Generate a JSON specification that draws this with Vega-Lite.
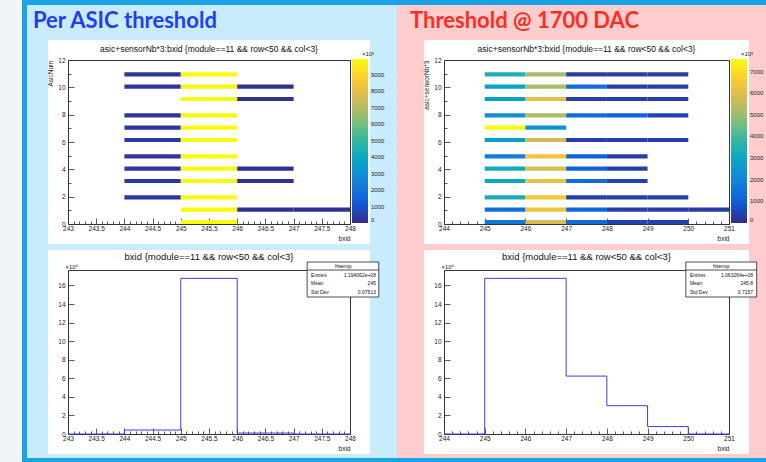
{
  "$schema": "https://vega.github.io/schema/vega-lite/v6.json",
  "background": "#f1f4f7",
  "autosize": {"type": "none"},
  "padding": {"left": 68, "top": 46, "right": 698, "bottom": 416},
  "bounds": "flush",
  "spacing": 0,
  "resolve": {"scale": {"color": "independent"}},
  "datasets": {
    "panels": [
      {"panel": "Per ASIC threshold"},
      {"panel": "Threshold @ 1700 DAC"}
    ],
    "heat_per_asic": [
      {"row": 11, "y_lo": 10.8, "y_hi": 11.1, "bx_lo": 244, "bx_hi": 245, "count_k": 300},
      {"row": 11, "y_lo": 10.8, "y_hi": 11.1, "bx_lo": 245, "bx_hi": 246, "count_k": 9940},
      {"row": 10, "y_lo": 9.9, "y_hi": 10.2, "bx_lo": 244, "bx_hi": 245, "count_k": 300},
      {"row": 10, "y_lo": 9.9, "y_hi": 10.2, "bx_lo": 245, "bx_hi": 246, "count_k": 9900},
      {"row": 10, "y_lo": 9.9, "y_hi": 10.2, "bx_lo": 246, "bx_hi": 247, "count_k": 150},
      {"row": 9, "y_lo": 9.0, "y_hi": 9.3, "bx_lo": 245, "bx_hi": 246, "count_k": 9920},
      {"row": 9, "y_lo": 9.0, "y_hi": 9.3, "bx_lo": 246, "bx_hi": 247, "count_k": 150},
      {"row": 8, "y_lo": 7.8, "y_hi": 8.1, "bx_lo": 244, "bx_hi": 245, "count_k": 320},
      {"row": 8, "y_lo": 7.8, "y_hi": 8.1, "bx_lo": 245, "bx_hi": 246, "count_k": 9880},
      {"row": 7, "y_lo": 6.9, "y_hi": 7.2, "bx_lo": 244, "bx_hi": 245, "count_k": 300},
      {"row": 7, "y_lo": 6.9, "y_hi": 7.2, "bx_lo": 245, "bx_hi": 246, "count_k": 9900},
      {"row": 6, "y_lo": 6.0, "y_hi": 6.3, "bx_lo": 244, "bx_hi": 245, "count_k": 330},
      {"row": 6, "y_lo": 6.0, "y_hi": 6.3, "bx_lo": 245, "bx_hi": 246, "count_k": 9870},
      {"row": 5, "y_lo": 4.8, "y_hi": 5.1, "bx_lo": 244, "bx_hi": 245, "count_k": 300},
      {"row": 5, "y_lo": 4.8, "y_hi": 5.1, "bx_lo": 245, "bx_hi": 246, "count_k": 9920},
      {"row": 4, "y_lo": 3.9, "y_hi": 4.2, "bx_lo": 244, "bx_hi": 245, "count_k": 300},
      {"row": 4, "y_lo": 3.9, "y_hi": 4.2, "bx_lo": 245, "bx_hi": 246, "count_k": 9890},
      {"row": 4, "y_lo": 3.9, "y_hi": 4.2, "bx_lo": 246, "bx_hi": 247, "count_k": 150},
      {"row": 3, "y_lo": 3.0, "y_hi": 3.3, "bx_lo": 244, "bx_hi": 245, "count_k": 320},
      {"row": 3, "y_lo": 3.0, "y_hi": 3.3, "bx_lo": 245, "bx_hi": 246, "count_k": 9900},
      {"row": 3, "y_lo": 3.0, "y_hi": 3.3, "bx_lo": 246, "bx_hi": 247, "count_k": 160},
      {"row": 2, "y_lo": 1.8, "y_hi": 2.1, "bx_lo": 244, "bx_hi": 245, "count_k": 300},
      {"row": 2, "y_lo": 1.8, "y_hi": 2.1, "bx_lo": 245, "bx_hi": 246, "count_k": 9910},
      {"row": 1, "y_lo": 0.9, "y_hi": 1.2, "bx_lo": 245, "bx_hi": 246, "count_k": 9930},
      {"row": 1, "y_lo": 0.9, "y_hi": 1.2, "bx_lo": 246, "bx_hi": 247, "count_k": 160},
      {"row": 1, "y_lo": 0.9, "y_hi": 1.2, "bx_lo": 247, "bx_hi": 248, "count_k": 140},
      {"row": 0, "y_lo": 0.0, "y_hi": 0.3, "bx_lo": 245, "bx_hi": 246, "count_k": 9940}
    ],
    "heat_1700": [
      {"row": 11, "y_lo": 10.8, "y_hi": 11.1, "bx_lo": 245, "bx_hi": 246, "count_k": 3400},
      {"row": 11, "y_lo": 10.8, "y_hi": 11.1, "bx_lo": 246, "bx_hi": 247, "count_k": 5150},
      {"row": 11, "y_lo": 10.8, "y_hi": 11.1, "bx_lo": 247, "bx_hi": 248, "count_k": 380},
      {"row": 11, "y_lo": 10.8, "y_hi": 11.1, "bx_lo": 248, "bx_hi": 249, "count_k": 380},
      {"row": 11, "y_lo": 10.8, "y_hi": 11.1, "bx_lo": 249, "bx_hi": 250, "count_k": 380},
      {"row": 10, "y_lo": 9.9, "y_hi": 10.2, "bx_lo": 245, "bx_hi": 246, "count_k": 2800},
      {"row": 10, "y_lo": 9.9, "y_hi": 10.2, "bx_lo": 246, "bx_hi": 247, "count_k": 5150},
      {"row": 10, "y_lo": 9.9, "y_hi": 10.2, "bx_lo": 247, "bx_hi": 248, "count_k": 1400},
      {"row": 10, "y_lo": 9.9, "y_hi": 10.2, "bx_lo": 248, "bx_hi": 249, "count_k": 380},
      {"row": 10, "y_lo": 9.9, "y_hi": 10.2, "bx_lo": 249, "bx_hi": 250, "count_k": 380},
      {"row": 9, "y_lo": 9.0, "y_hi": 9.3, "bx_lo": 245, "bx_hi": 246, "count_k": 2700},
      {"row": 9, "y_lo": 9.0, "y_hi": 9.3, "bx_lo": 246, "bx_hi": 247, "count_k": 6060},
      {"row": 9, "y_lo": 9.0, "y_hi": 9.3, "bx_lo": 247, "bx_hi": 248, "count_k": 380},
      {"row": 9, "y_lo": 9.0, "y_hi": 9.3, "bx_lo": 248, "bx_hi": 249, "count_k": 380},
      {"row": 9, "y_lo": 9.0, "y_hi": 9.3, "bx_lo": 249, "bx_hi": 250, "count_k": 380},
      {"row": 8, "y_lo": 7.8, "y_hi": 8.1, "bx_lo": 245, "bx_hi": 246, "count_k": 2300},
      {"row": 8, "y_lo": 7.8, "y_hi": 8.1, "bx_lo": 246, "bx_hi": 247, "count_k": 5200},
      {"row": 8, "y_lo": 7.8, "y_hi": 8.1, "bx_lo": 247, "bx_hi": 248, "count_k": 1300},
      {"row": 8, "y_lo": 7.8, "y_hi": 8.1, "bx_lo": 248, "bx_hi": 249, "count_k": 1100},
      {"row": 8, "y_lo": 7.8, "y_hi": 8.1, "bx_lo": 249, "bx_hi": 250, "count_k": 500},
      {"row": 7, "y_lo": 6.9, "y_hi": 7.2, "bx_lo": 245, "bx_hi": 246, "count_k": 7580},
      {"row": 7, "y_lo": 6.9, "y_hi": 7.2, "bx_lo": 246, "bx_hi": 247, "count_k": 2400},
      {"row": 6, "y_lo": 6.0, "y_hi": 6.3, "bx_lo": 245, "bx_hi": 246, "count_k": 2750},
      {"row": 6, "y_lo": 6.0, "y_hi": 6.3, "bx_lo": 246, "bx_hi": 247, "count_k": 5700},
      {"row": 6, "y_lo": 6.0, "y_hi": 6.3, "bx_lo": 247, "bx_hi": 248, "count_k": 380},
      {"row": 6, "y_lo": 6.0, "y_hi": 6.3, "bx_lo": 248, "bx_hi": 249, "count_k": 380},
      {"row": 6, "y_lo": 6.0, "y_hi": 6.3, "bx_lo": 249, "bx_hi": 250, "count_k": 380},
      {"row": 5, "y_lo": 4.8, "y_hi": 5.1, "bx_lo": 245, "bx_hi": 246, "count_k": 1800},
      {"row": 5, "y_lo": 4.8, "y_hi": 5.1, "bx_lo": 246, "bx_hi": 247, "count_k": 6370},
      {"row": 5, "y_lo": 4.8, "y_hi": 5.1, "bx_lo": 247, "bx_hi": 248, "count_k": 1100},
      {"row": 5, "y_lo": 4.8, "y_hi": 5.1, "bx_lo": 248, "bx_hi": 249, "count_k": 380},
      {"row": 4, "y_lo": 3.9, "y_hi": 4.2, "bx_lo": 245, "bx_hi": 246, "count_k": 3100},
      {"row": 4, "y_lo": 3.9, "y_hi": 4.2, "bx_lo": 246, "bx_hi": 247, "count_k": 5800},
      {"row": 4, "y_lo": 3.9, "y_hi": 4.2, "bx_lo": 247, "bx_hi": 248, "count_k": 1100},
      {"row": 4, "y_lo": 3.9, "y_hi": 4.2, "bx_lo": 248, "bx_hi": 249, "count_k": 380},
      {"row": 3, "y_lo": 3.0, "y_hi": 3.3, "bx_lo": 245, "bx_hi": 246, "count_k": 3000},
      {"row": 3, "y_lo": 3.0, "y_hi": 3.3, "bx_lo": 246, "bx_hi": 247, "count_k": 6200},
      {"row": 3, "y_lo": 3.0, "y_hi": 3.3, "bx_lo": 247, "bx_hi": 248, "count_k": 1300},
      {"row": 3, "y_lo": 3.0, "y_hi": 3.3, "bx_lo": 248, "bx_hi": 249, "count_k": 450},
      {"row": 2, "y_lo": 1.8, "y_hi": 2.1, "bx_lo": 245, "bx_hi": 246, "count_k": 3300},
      {"row": 2, "y_lo": 1.8, "y_hi": 2.1, "bx_lo": 246, "bx_hi": 247, "count_k": 6500},
      {"row": 2, "y_lo": 1.8, "y_hi": 2.1, "bx_lo": 247, "bx_hi": 248, "count_k": 380},
      {"row": 2, "y_lo": 1.8, "y_hi": 2.1, "bx_lo": 248, "bx_hi": 249, "count_k": 380},
      {"row": 2, "y_lo": 1.8, "y_hi": 2.1, "bx_lo": 249, "bx_hi": 250, "count_k": 380},
      {"row": 1, "y_lo": 0.9, "y_hi": 1.2, "bx_lo": 245, "bx_hi": 246, "count_k": 1400},
      {"row": 1, "y_lo": 0.9, "y_hi": 1.2, "bx_lo": 246, "bx_hi": 247, "count_k": 6300},
      {"row": 1, "y_lo": 0.9, "y_hi": 1.2, "bx_lo": 247, "bx_hi": 248, "count_k": 1200},
      {"row": 1, "y_lo": 0.9, "y_hi": 1.2, "bx_lo": 248, "bx_hi": 249, "count_k": 350},
      {"row": 1, "y_lo": 0.9, "y_hi": 1.2, "bx_lo": 249, "bx_hi": 250, "count_k": 350},
      {"row": 1, "y_lo": 0.9, "y_hi": 1.2, "bx_lo": 250, "bx_hi": 251, "count_k": 350},
      {"row": 0, "y_lo": 0.0, "y_hi": 0.3, "bx_lo": 245, "bx_hi": 246, "count_k": 1700},
      {"row": 0, "y_lo": 0.0, "y_hi": 0.3, "bx_lo": 246, "bx_hi": 247, "count_k": 5800},
      {"row": 0, "y_lo": 0.0, "y_hi": 0.3, "bx_lo": 247, "bx_hi": 248, "count_k": 1300},
      {"row": 0, "y_lo": 0.0, "y_hi": 0.3, "bx_lo": 248, "bx_hi": 249, "count_k": 450},
      {"row": 0, "y_lo": 0.0, "y_hi": 0.3, "bx_lo": 249, "bx_hi": 250, "count_k": 400}
    ],
    "hist_per_asic": [
      {"bxid": 243, "entries_m": 0},
      {"bxid": 244, "entries_m": 0.43},
      {"bxid": 245, "entries_m": 16.77},
      {"bxid": 246, "entries_m": 0.1},
      {"bxid": 247, "entries_m": 0},
      {"bxid": 248, "entries_m": 0}
    ],
    "hist_1700": [
      {"bxid": 244, "entries_m": 0},
      {"bxid": 245, "entries_m": 16.77},
      {"bxid": 246, "entries_m": 16.77},
      {"bxid": 247, "entries_m": 6.24},
      {"bxid": 248, "entries_m": 3.05},
      {"bxid": 249, "entries_m": 0.8},
      {"bxid": 250, "entries_m": 0},
      {"bxid": 251, "entries_m": 0}
    ],
    "stats_per_asic": [
      {"name": "htemp", "stat": "Entries", "value": "1.194062e+08"},
      {"name": "htemp", "stat": "Mean", "value": "245"},
      {"name": "htemp", "stat": "Std Dev", "value": "0.07513"}
    ],
    "stats_1700": [
      {"name": "htemp", "stat": "Entries", "value": "1.063264e+08"},
      {"name": "htemp", "stat": "Mean", "value": "245.8"},
      {"name": "htemp", "stat": "Std Dev", "value": "0.7157"}
    ]
  },
  "vconcat": [
    {
      "bounds": "flush",
      "hconcat": [
        {
          "width": 660,
          "height": 372,
          "view": {"fill": "#1aa3e8", "stroke": "#1aa3e8", "strokeWidth": 92},
          "data": {"name": "panels"},
          "mark": {"type": "rect", "opacity": 0},
          "encoding": {}
        }
      ]
    },
    {
      "bounds": "flush",
      "spacing": 14,
      "vconcat": [
        {
          "bounds": "flush",
          "spacing": 82,
          "hconcat": [
            {
              "width": 288,
              "height": 371,
              "view": {"fill": "#c9ecfd", "stroke": "#c9ecfd", "strokeWidth": 82},
              "data": {"name": "panels"},
              "transform": [{"filter": "datum.panel == 'Per ASIC threshold'"}],
              "mark": {"type": "rect", "opacity": 0},
              "encoding": {}
            },
            {
              "width": 300,
              "height": 371,
              "view": {"fill": "#ffcdcd", "stroke": "#ffcdcd", "strokeWidth": 82},
              "data": {"name": "panels"},
              "transform": [{"filter": "datum.panel == 'Threshold @ 1700 DAC'"}],
              "mark": {"type": "rect", "opacity": 0},
              "encoding": {}
            }
          ]
        },
        {
          "bounds": "flush",
          "spacing": 376,
          "resolve": {"scale": {"color": "independent"}},
          "hconcat": [
            {
              "title": {"text": "Per ASIC threshold", "color": "#1f3ff2", "fontSize": 22, "font": "Lato", "fontWeight": "bold", "anchor": "start", "frame": "group", "dx": -35, "offset": -8},
              "bounds": "flush",
              "spacing": 46,
              "vconcat": [
                {
                  "width": 282,
                  "height": 164,
                  "view": {"fill": "white", "stroke": "white", "strokeWidth": 40},
                  "title": {"text": "asic+sensorNb*3:bxid {module==11 && row<50 && col<3}", "fontSize": 8.5, "offset": 4, "frame": "group"},
                  "data": {"name": "heat_per_asic"},
                  "mark": {"type": "rect"},
                  "encoding": {
                    "x": {
                      "field": "bx_lo", "type": "quantitative",
                      "scale": {"domain": [243, 248], "nice": false, "zero": false},
                      "axis": {
                        "title": "bxid", "titleAnchor": "end", "titlePadding": 1,
                        "values": [243, 243.1, 243.2, 243.3, 243.4, 243.5, 243.6, 243.7, 243.8, 243.9, 244, 244.1, 244.2, 244.3, 244.4, 244.5, 244.6, 244.7, 244.8, 244.9, 245, 245.1, 245.2, 245.3, 245.4, 245.5, 245.6, 245.7, 245.8, 245.9, 246, 246.1, 246.2, 246.3, 246.4, 246.5, 246.6, 246.7, 246.8, 246.9, 247, 247.1, 247.2, 247.3, 247.4, 247.5, 247.6, 247.7, 247.8, 247.9, 248],
                        "tickCount": 100,
                        "format": ".1~f",
                        "labelExpr": "abs(datum.value * 2 - round(datum.value * 2)) < 0.01 ? datum.label : ''",
                        "labelOverlap": false,
                        "labelPadding": 7,
                        "tickSize": {"condition": {"test": "abs(datum.value * 2 - round(datum.value * 2)) < 0.01", "value": -6}, "value": -3},
                        "grid": true,
                        "gridOpacity": {"condition": {"test": "datum.value > 247.99", "value": 1}, "value": 0}
                      }
                    },
                    "x2": {"field": "bx_hi"},
                    "y": {
                      "field": "y_lo", "type": "quantitative",
                      "scale": {"domain": [0, 12], "nice": false},
                      "axis": {
                        "title": "AsicNum", "titleAnchor": "end", "titlePadding": 4,
                        "values": [0, 0.5, 1, 1.5, 2, 2.5, 3, 3.5, 4, 4.5, 5, 5.5, 6, 6.5, 7, 7.5, 8, 8.5, 9, 9.5, 10, 10.5, 11, 11.5, 12],
                        "tickCount": 100,
                        "format": "d",
                        "labelExpr": "datum.value % 2 == 0 ? datum.label : ''",
                        "labelOverlap": false,
                        "labelPadding": 9,
                        "tickSize": {"condition": {"test": "datum.value % 2 == 0", "value": -6}, "value": -3},
                        "grid": true,
                        "gridOpacity": {"condition": {"test": "datum.value > 11.99", "value": 1}, "value": 0}
                      }
                    },
                    "y2": {"field": "y_hi"},
                    "color": {
                      "field": "count_k", "type": "quantitative",
                      "scale": {"domain": [0, 9940], "range": ["#352a87", "#0f5cdd", "#1481d6", "#06a4ca", "#2eb7a4", "#87bf77", "#d1bb59", "#fec832", "#f9fb0e"], "interpolate": "rgb"},
                      "legend": {
                        "orient": "none", "legendX": 284, "legendY": -9, "direction": "vertical",
                        "gradientLength": 164, "gradientThickness": 16, "gradientStrokeWidth": 0,
                        "values": [0, 1000, 2000, 3000, 4000, 5000, 6000, 7000, 8000, 9000],
                        "format": "d",
                        "title": "×10³", "titleFontSize": 6, "titleFontWeight": "normal", "titleAnchor": "middle", "titlePadding": 2, "titleColor": "#222",
                        "labelFontSize": 6, "labelOffset": 3, "labelColor": "#222", "labelOverlap": false, "padding": 0
                      }
                    }
                  }
                },
                {
                  "width": 282,
                  "height": 164,
                  "view": {"fill": "white", "stroke": "white", "strokeWidth": 40},
                  "title": {"text": "bxid {module==11 && row<50 && col<3}", "fontSize": 9.5, "offset": 0, "frame": "group"},
                  "layer": [
                    {
                      "data": {"name": "hist_per_asic"},
                      "mark": {"type": "line", "interpolate": "step-after", "color": "#3c3cdc", "strokeWidth": 1},
                      "encoding": {
                        "x": {
                          "field": "bxid", "type": "quantitative",
                          "scale": {"domain": [243, 248], "nice": false, "zero": false},
                          "axis": {
                            "title": "bxid", "titleAnchor": "end", "titlePadding": 1,
                            "values": [243, 243.1, 243.2, 243.3, 243.4, 243.5, 243.6, 243.7, 243.8, 243.9, 244, 244.1, 244.2, 244.3, 244.4, 244.5, 244.6, 244.7, 244.8, 244.9, 245, 245.1, 245.2, 245.3, 245.4, 245.5, 245.6, 245.7, 245.8, 245.9, 246, 246.1, 246.2, 246.3, 246.4, 246.5, 246.6, 246.7, 246.8, 246.9, 247, 247.1, 247.2, 247.3, 247.4, 247.5, 247.6, 247.7, 247.8, 247.9, 248],
                            "tickCount": 100,
                            "format": ".1~f",
                            "labelExpr": "abs(datum.value * 2 - round(datum.value * 2)) < 0.01 ? datum.label : ''",
                            "labelOverlap": false,
                            "labelPadding": 7,
                            "tickSize": {"condition": {"test": "abs(datum.value * 2 - round(datum.value * 2)) < 0.01", "value": -6}, "value": -3},
                            "grid": true,
                            "gridOpacity": {"condition": {"test": "datum.value > 247.99", "value": 1}, "value": 0}
                          }
                        },
                        "y": {
                          "field": "entries_m", "type": "quantitative",
                          "scale": {"domain": [0, 17.67], "nice": false},
                          "axis": {
                            "title": "×10⁶", "titleAngle": 0, "titleX": -3, "titleY": -1, "titleAlign": "left", "titleBaseline": "bottom", "titleFontSize": 6,
                            "values": [0, 0.5, 1, 1.5, 2, 2.5, 3, 3.5, 4, 4.5, 5, 5.5, 6, 6.5, 7, 7.5, 8, 8.5, 9, 9.5, 10, 10.5, 11, 11.5, 12, 12.5, 13, 13.5, 14, 14.5, 15, 15.5, 16, 16.5, 17, 17.5, 17.67],
                            "tickCount": 100,
                            "format": "d",
                            "labelExpr": "datum.value % 2 == 0 ? datum.label : ''",
                            "labelOverlap": false,
                            "labelPadding": 9,
                            "tickSize": {"condition": {"test": "datum.value % 2 == 0", "value": -6}, "value": -3},
                            "tickOpacity": {"condition": {"test": "datum.value > 17.6", "value": 0}, "value": 1},
                            "grid": true,
                            "gridOpacity": {"condition": {"test": "datum.value > 17.6", "value": 1}, "value": 0}
                          }
                        }
                      }
                    },
                    {
                      "data": {"values": [{"name": "htemp"}]},
                      "mark": {"type": "rect", "fill": "white", "stroke": "#222", "strokeWidth": 0.8},
                      "encoding": {"x": {"datum": 247.24}, "x2": {"datum": 248.51}, "y": {"datum": 18.53}, "y2": {"datum": 14.76}}
                    },
                    {
                      "data": {"values": [{"name": "htemp"}]},
                      "mark": {"type": "rule", "stroke": "#222", "strokeWidth": 0.8},
                      "encoding": {"x": {"datum": 247.24}, "x2": {"datum": 248.51}, "y": {"datum": 17.67}}
                    },
                    {
                      "data": {"values": [{"name": "htemp"}]},
                      "mark": {"type": "text", "fontSize": 6, "align": "center", "baseline": "middle", "color": "#111"},
                      "encoding": {"x": {"datum": 247.88}, "y": {"datum": 18.08}, "text": {"field": "name"}}
                    },
                    {
                      "data": {"name": "stats_per_asic"},
                      "transform": [{"filter": "datum.stat == 'Entries'"}],
                      "layer": [
                        {"mark": {"type": "text", "fontSize": 5, "align": "left", "baseline": "middle", "color": "#111"}, "encoding": {"x": {"datum": 247.31}, "y": {"datum": 17.08}, "text": {"field": "stat"}}},
                        {"mark": {"type": "text", "fontSize": 5, "align": "right", "baseline": "middle", "color": "#111"}, "encoding": {"x": {"datum": 248.46}, "y": {"datum": 17.08}, "text": {"field": "value"}}}
                      ]
                    },
                    {
                      "data": {"name": "stats_per_asic"},
                      "transform": [{"filter": "datum.stat == 'Mean'"}],
                      "layer": [
                        {"mark": {"type": "text", "fontSize": 5, "align": "left", "baseline": "middle", "color": "#111"}, "encoding": {"x": {"datum": 247.31}, "y": {"datum": 16.22}, "text": {"field": "stat"}}},
                        {"mark": {"type": "text", "fontSize": 5, "align": "right", "baseline": "middle", "color": "#111"}, "encoding": {"x": {"datum": 248.46}, "y": {"datum": 16.22}, "text": {"field": "value"}}}
                      ]
                    },
                    {
                      "data": {"name": "stats_per_asic"},
                      "transform": [{"filter": "datum.stat == 'Std Dev'"}],
                      "layer": [
                        {"mark": {"type": "text", "fontSize": 5, "align": "left", "baseline": "middle", "color": "#111"}, "encoding": {"x": {"datum": 247.31}, "y": {"datum": 15.35}, "text": {"field": "stat"}}},
                        {"mark": {"type": "text", "fontSize": 5, "align": "right", "baseline": "middle", "color": "#111"}, "encoding": {"x": {"datum": 248.46}, "y": {"datum": 15.35}, "text": {"field": "value"}}}
                      ]
                    }
                  ]
                }
              ]
            },
            {
              "title": {"text": "Threshold @ 1700 DAC", "color": "#ff2d1f", "fontSize": 22, "font": "Lato", "fontWeight": "bold", "anchor": "start", "frame": "group", "dx": -34, "offset": -8},
              "bounds": "flush",
              "spacing": 46,
              "vconcat": [
                {
                  "width": 285,
                  "height": 164,
                  "view": {"fill": "white", "stroke": "white", "strokeWidth": 40},
                  "title": {"text": "asic+sensorNb*3:bxid {module==11 && row<50 && col<3}", "fontSize": 8.5, "offset": 4, "frame": "group"},
                  "data": {"name": "heat_1700"},
                  "mark": {"type": "rect"},
                  "encoding": {
                    "x": {
                      "field": "bx_lo", "type": "quantitative",
                      "scale": {"domain": [244, 251], "nice": false, "zero": false},
                      "axis": {
                        "title": "bxid", "titleAnchor": "end", "titlePadding": 1,
                        "values": [244, 244.2, 244.4, 244.6, 244.8, 245, 245.2, 245.4, 245.6, 245.8, 246, 246.2, 246.4, 246.6, 246.8, 247, 247.2, 247.4, 247.6, 247.8, 248, 248.2, 248.4, 248.6, 248.8, 249, 249.2, 249.4, 249.6, 249.8, 250, 250.2, 250.4, 250.6, 250.8, 251],
                        "tickCount": 100,
                        "format": ".1~f",
                        "labelExpr": "abs(datum.value - round(datum.value)) < 0.01 ? datum.label : ''",
                        "labelOverlap": false,
                        "labelPadding": 7,
                        "tickSize": {"condition": {"test": "abs(datum.value - round(datum.value)) < 0.01", "value": -6}, "value": -3},
                        "grid": true,
                        "gridOpacity": {"condition": {"test": "datum.value > 250.99", "value": 1}, "value": 0}
                      }
                    },
                    "x2": {"field": "bx_hi"},
                    "y": {
                      "field": "y_lo", "type": "quantitative",
                      "scale": {"domain": [0, 12], "nice": false},
                      "axis": {
                        "title": "asic+sensorNb*3", "titleAnchor": "end", "titlePadding": 4,
                        "values": [0, 0.5, 1, 1.5, 2, 2.5, 3, 3.5, 4, 4.5, 5, 5.5, 6, 6.5, 7, 7.5, 8, 8.5, 9, 9.5, 10, 10.5, 11, 11.5, 12],
                        "tickCount": 100,
                        "format": "d",
                        "labelExpr": "datum.value % 2 == 0 ? datum.label : ''",
                        "labelOverlap": false,
                        "labelPadding": 9,
                        "tickSize": {"condition": {"test": "datum.value % 2 == 0", "value": -6}, "value": -3},
                        "grid": true,
                        "gridOpacity": {"condition": {"test": "datum.value > 11.99", "value": 1}, "value": 0}
                      }
                    },
                    "y2": {"field": "y_hi"},
                    "color": {
                      "field": "count_k", "type": "quantitative",
                      "scale": {"domain": [0, 7580], "range": ["#352a87", "#0f5cdd", "#1481d6", "#06a4ca", "#2eb7a4", "#87bf77", "#d1bb59", "#fec832", "#f9fb0e"], "interpolate": "rgb"},
                      "legend": {
                        "orient": "none", "legendX": 287, "legendY": -9, "direction": "vertical",
                        "gradientLength": 164, "gradientThickness": 16, "gradientStrokeWidth": 0,
                        "values": [0, 1000, 2000, 3000, 4000, 5000, 6000, 7000],
                        "format": "d",
                        "title": "×10³", "titleFontSize": 6, "titleFontWeight": "normal", "titleAnchor": "middle", "titlePadding": 2, "titleColor": "#222",
                        "labelFontSize": 6, "labelOffset": 3, "labelColor": "#222", "labelOverlap": false, "padding": 0
                      }
                    }
                  }
                },
                {
                  "width": 285,
                  "height": 164,
                  "view": {"fill": "white", "stroke": "white", "strokeWidth": 40},
                  "title": {"text": "bxid {module==11 && row<50 && col<3}", "fontSize": 9.5, "offset": 0, "frame": "group"},
                  "layer": [
                    {
                      "data": {"name": "hist_1700"},
                      "mark": {"type": "line", "interpolate": "step-after", "color": "#3c3cdc", "strokeWidth": 1},
                      "encoding": {
                        "x": {
                          "field": "bxid", "type": "quantitative",
                          "scale": {"domain": [244, 251], "nice": false, "zero": false},
                          "axis": {
                            "title": "bxid", "titleAnchor": "end", "titlePadding": 1,
                            "values": [244, 244.2, 244.4, 244.6, 244.8, 245, 245.2, 245.4, 245.6, 245.8, 246, 246.2, 246.4, 246.6, 246.8, 247, 247.2, 247.4, 247.6, 247.8, 248, 248.2, 248.4, 248.6, 248.8, 249, 249.2, 249.4, 249.6, 249.8, 250, 250.2, 250.4, 250.6, 250.8, 251],
                            "tickCount": 100,
                            "format": ".1~f",
                            "labelExpr": "abs(datum.value - round(datum.value)) < 0.01 ? datum.label : ''",
                            "labelOverlap": false,
                            "labelPadding": 7,
                            "tickSize": {"condition": {"test": "abs(datum.value - round(datum.value)) < 0.01", "value": -6}, "value": -3},
                            "grid": true,
                            "gridOpacity": {"condition": {"test": "datum.value > 250.99", "value": 1}, "value": 0}
                          }
                        },
                        "y": {
                          "field": "entries_m", "type": "quantitative",
                          "scale": {"domain": [0, 17.67], "nice": false},
                          "axis": {
                            "title": "×10⁶", "titleAngle": 0, "titleX": -3, "titleY": -1, "titleAlign": "left", "titleBaseline": "bottom", "titleFontSize": 6,
                            "values": [0, 0.5, 1, 1.5, 2, 2.5, 3, 3.5, 4, 4.5, 5, 5.5, 6, 6.5, 7, 7.5, 8, 8.5, 9, 9.5, 10, 10.5, 11, 11.5, 12, 12.5, 13, 13.5, 14, 14.5, 15, 15.5, 16, 16.5, 17, 17.5, 17.67],
                            "tickCount": 100,
                            "format": "d",
                            "labelExpr": "datum.value % 2 == 0 ? datum.label : ''",
                            "labelOverlap": false,
                            "labelPadding": 9,
                            "tickSize": {"condition": {"test": "datum.value % 2 == 0", "value": -6}, "value": -3},
                            "tickOpacity": {"condition": {"test": "datum.value > 17.6", "value": 0}, "value": 1},
                            "grid": true,
                            "gridOpacity": {"condition": {"test": "datum.value > 17.6", "value": 1}, "value": 0}
                          }
                        }
                      }
                    },
                    {
                      "data": {"values": [{"name": "htemp"}]},
                      "mark": {"type": "rect", "fill": "white", "stroke": "#222", "strokeWidth": 0.8},
                      "encoding": {"x": {"datum": 249.94}, "x2": {"datum": 251.68}, "y": {"datum": 18.53}, "y2": {"datum": 14.76}}
                    },
                    {
                      "data": {"values": [{"name": "htemp"}]},
                      "mark": {"type": "rule", "stroke": "#222", "strokeWidth": 0.8},
                      "encoding": {"x": {"datum": 249.94}, "x2": {"datum": 251.68}, "y": {"datum": 17.67}}
                    },
                    {
                      "data": {"values": [{"name": "htemp"}]},
                      "mark": {"type": "text", "fontSize": 6, "align": "center", "baseline": "middle", "color": "#111"},
                      "encoding": {"x": {"datum": 250.81}, "y": {"datum": 18.08}, "text": {"field": "name"}}
                    },
                    {
                      "data": {"name": "stats_1700"},
                      "transform": [{"filter": "datum.stat == 'Entries'"}],
                      "layer": [
                        {"mark": {"type": "text", "fontSize": 5, "align": "left", "baseline": "middle", "color": "#111"}, "encoding": {"x": {"datum": 250.04}, "y": {"datum": 17.08}, "text": {"field": "stat"}}},
                        {"mark": {"type": "text", "fontSize": 5, "align": "right", "baseline": "middle", "color": "#111"}, "encoding": {"x": {"datum": 251.59}, "y": {"datum": 17.08}, "text": {"field": "value"}}}
                      ]
                    },
                    {
                      "data": {"name": "stats_1700"},
                      "transform": [{"filter": "datum.stat == 'Mean'"}],
                      "layer": [
                        {"mark": {"type": "text", "fontSize": 5, "align": "left", "baseline": "middle", "color": "#111"}, "encoding": {"x": {"datum": 250.04}, "y": {"datum": 16.22}, "text": {"field": "stat"}}},
                        {"mark": {"type": "text", "fontSize": 5, "align": "right", "baseline": "middle", "color": "#111"}, "encoding": {"x": {"datum": 251.59}, "y": {"datum": 16.22}, "text": {"field": "value"}}}
                      ]
                    },
                    {
                      "data": {"name": "stats_1700"},
                      "transform": [{"filter": "datum.stat == 'Std Dev'"}],
                      "layer": [
                        {"mark": {"type": "text", "fontSize": 5, "align": "left", "baseline": "middle", "color": "#111"}, "encoding": {"x": {"datum": 250.04}, "y": {"datum": 15.35}, "text": {"field": "stat"}}},
                        {"mark": {"type": "text", "fontSize": 5, "align": "right", "baseline": "middle", "color": "#111"}, "encoding": {"x": {"datum": 251.59}, "y": {"datum": 15.35}, "text": {"field": "value"}}}
                      ]
                    }
                  ]
                }
              ]
            }
          ]
        }
      ]
    }
  ],
  "config": {
    "font": "Liberation Sans",
    "view": {"stroke": null},
    "title": {"font": "Liberation Sans", "fontWeight": "normal", "color": "#111"},
    "text": {"font": "Liberation Sans"},
    "axis": {
      "labelFont": "Liberation Sans", "labelFontSize": 6.5, "labelColor": "#222",
      "labelOverlap": false, "labelFlush": false, "labelBound": false, "tickCount": 100,
      "titleFont": "Liberation Sans", "titleFontSize": 6.5, "titleFontWeight": "normal", "titleColor": "#222",
      "domainColor": "#333", "domainWidth": 1, "tickColor": "#333", "tickWidth": 0.8,
      "gridColor": "#333", "gridWidth": 1
    },
    "legend": {"labelFont": "Liberation Sans", "titleFont": "Liberation Sans"}
  }
}
